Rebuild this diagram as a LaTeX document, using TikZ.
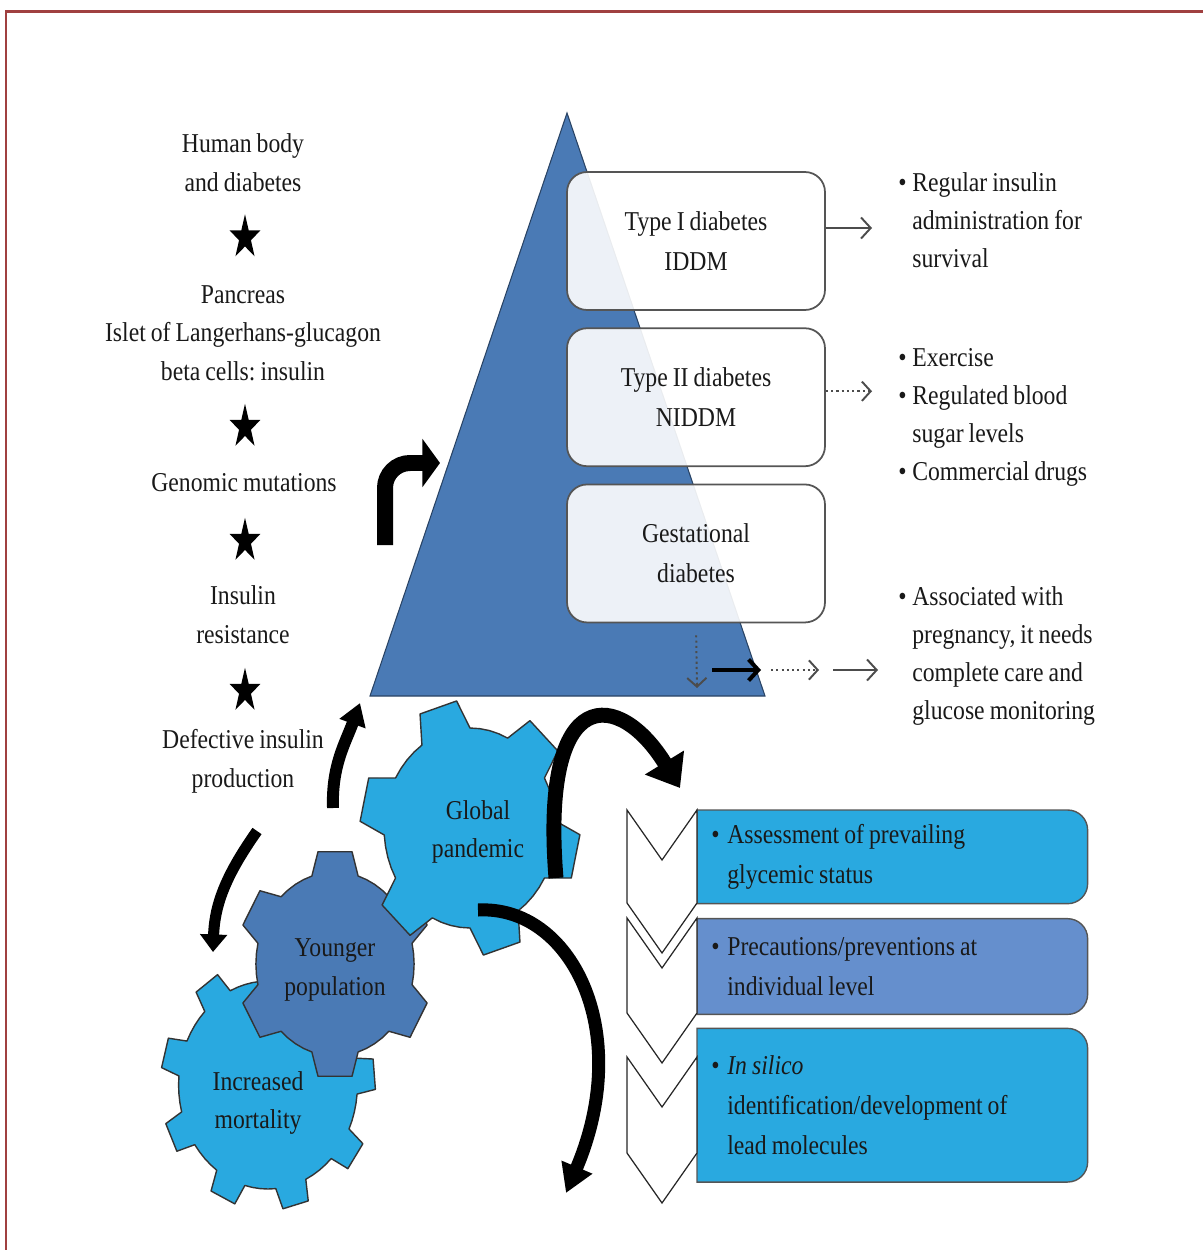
\documentclass[tikz,border=0pt]{standalone}
\usepackage{fontspec}
\setmainfont{Liberation Serif}[FakeStretch=0.87, WordSpace=0.85]
\usetikzlibrary{arrows.meta,positioning,shapes.geometric,backgrounds}
\frenchspacing

\definecolor{triblue}{RGB}{74,122,181}
\definecolor{cyanbox}{RGB}{41,169,224}
\definecolor{midblue}{RGB}{101,143,205}
\definecolor{framered}{RGB}{160,64,64}
\definecolor{edgegray}{RGB}{85,85,85}

\newcommand{\bul}[1][0.28cm]{\makebox[#1][l]{\textbullet}}
\newcommand{\hind}[1][0.28cm]{\hspace*{#1}}

% gear: centre, teeth, inner r, outer r, first tooth angle, tip half-angle, base half-angle, fill
\newcommand{\gear}[8]{%
  \begin{scope}[shift={#1}, x=0.0172cm, y=0.02cm]
    \pgfmathsetmacro{\gpitch}{360/#2}
    \filldraw[gearedge, fill=#8] ({#5-#7}:#3)
      \foreach \k [evaluate=\k as \ga using #5+\gpitch*(\k-1)] in {1,...,#2} {
        -- ({\ga-#7}:#3) -- ({\ga-#6}:#4) -- ({\ga+#6}:#4) -- ({\ga+#7}:#3)
        -- ({\ga+#7+(\gpitch-2*#7)/4}:#3) -- ({\ga+\gpitch/2}:#3)
        -- ({\ga+\gpitch-#7-(\gpitch-2*#7)/4}:#3)
      } -- cycle;
  \end{scope}}

% box with square left and rounded right corners
\newcommand{\rbox}[2]{%
  \begin{pgfonlayer}{background}
    \draw[boxedge, fill=#2] (#1.south west) -- (#1.north west)
      -- ([xshift=-4mm]#1.north east) arc[start angle=90, end angle=0, radius=4mm]
      -- ([yshift=4mm]#1.south east) arc[start angle=0, end angle=-90, radius=4mm] -- cycle;
  \end{pgfonlayer}}

\begin{document}
\begin{tikzpicture}[
  x=0.02cm, y=0.02cm,
  node distance=0.33cm,
  txt/.style={font=\fontsize{15.5pt}{22pt}\selectfont, text=black!90, align=center, inner sep=0pt},
  listtxt/.style={font=\fontsize{15.5pt}{21.6pt}\selectfont, text=black!90, align=left, inner sep=0pt, anchor=west},
  typebox/.style={draw=edgegray, line width=1pt, rounded corners=0.4cm, fill=white, fill opacity=0.9,
                  text opacity=1, minimum width=5.16cm, minimum height=2.76cm, align=center,
                  font=\fontsize{15.5pt}{22.8pt}\selectfont, text=black!90},
  bluebox/.style={font=\fontsize{15.5pt}{22.8pt}\selectfont, text=black!90, align=flush left,
                  text width=7.24cm, inner xsep=0.28cm, inner ysep=0pt, minimum width=7.8cm},
  boxedge/.style={draw=edgegray, line width=0.8pt},
  gearedge/.style={draw=black!80, line width=0.8pt, line join=round},
  starmark/.style={star, star points=5, star point ratio=2.6, fill=black, draw=none,
                   minimum size=0.93cm, inner sep=0pt, xscale=0.7},
  chev/.style={draw=black!85, line width=0.7pt, fill=white, line join=miter},
  solarr/.style={-{Straight Barb[length=5.5pt, width=12pt]}, line width=1.1pt, draw=black!70},
  dotarr/.style={-{Straight Barb[length=5pt, width=11pt]}, line width=1.1pt, draw=black!70,
                 dash pattern=on 1.2pt off 1.8pt},
  blkthin/.style={-{Straight Barb[length=5.5pt, width=12pt]}, line width=2.3pt, draw=black},
  blkarc/.style={line width=#1, draw=black}
]
\useasboundingbox (0,0) rectangle (1203,-1250);

% frame
\draw[framered, line width=1.4pt] (6,-1250) -- (6,-11.5) -- (1203,-11.5);

% pyramid and the three types
\filldraw[fill=triblue, draw=triblue!55!black, line width=0.6pt] (567,-113) -- (765,-696) -- (370,-696) -- cycle;
\node[typebox] (t1) at (696,-241) {Type I diabetes\\IDDM};
\node[typebox, below=of t1] (t2) {Type II diabetes\\NIDDM};
\node[typebox, below=of t2] (t3) {Gestational\\diabetes};

\node[listtxt] (r1) at (898,-220.5) {\bul Regular insulin\\\hind administration for\\\hind survival};
\node[listtxt] (r2) at (898,-417) {\bul Exercise\\\bul Regulated blood\\\hind sugar levels\\\bul Commercial drugs};
\node[listtxt] (r3) at (898,-656) {\bul Associated with\\\hind pregnancy, it needs\\\hind complete care and\\\hind glucose monitoring};

\draw[solarr, shorten >=0.52cm] ([yshift=0.26cm]t1.east) -- ([yshift=0.26cm]t1.east -| r1.west);
\draw[dotarr, shorten >=0.52cm] ([yshift=0.12cm]t2.east) -- ([yshift=0.12cm]t2.east -| r2.west);

\coordinate (g0) at (697,-688);
\coordinate (h1) at (712,-670);
\coordinate (h2) at (761,-670);
\coordinate (h3) at (771,-670);
\coordinate (h4) at (819,-670);
\coordinate (h5) at (833,-670);
\draw[dotarr, shorten <=0.24cm] (t3.south) -- (g0);
\draw[blkthin] (h1) -- (h2);
\draw[dotarr] (h3) -- (h4);
\draw[solarr, shorten >=0.4cm] (h5) -- (h5 -| r3.west);

% left column
\node[txt] (body) at (243,-162.5) {Human body\\and diabetes};
\node[starmark] (st1) at (245,-237.5) {};
\node[txt] (panc) at (243,-333) {Pancreas\\Islet of Langerhans-glucagon\\beta cells: insulin};
\node[starmark] (st2) at (245,-427) {};
\node[txt] (geno) at (244,-483) {Genomic mutations};
\node[starmark] (st3) at (245,-541) {};
\node[txt] (ires) at (243,-614.5) {Insulin\\resistance};
\node[starmark] (st4) at (245,-691) {};
\node[txt] (defi) at (243,-761.5) {Defective insulin\\production};

% bent arrow to the pyramid
\coordinate (bs) at (385,-545);
\coordinate (be) at (440,-463);
\draw[blkarc=9.1pt, rounded corners=0.5cm, -{Triangle[length=10pt, width=27pt]}] (bs) |- (be);

% gears
\gear{(268,-1085)}{9}{104}{125}{85}{7}{10}{cyanbox}
\gear{(335,-964)}{6}{92}{114}{90}{10}{17}{triblue}
\gear{(470,-828)}{6}{100}{128}{107}{10}{17}{cyanbox}
\node[txt] (glob) at (478,-832) {Global\\pandemic};
\node[txt] (youn) at (335,-970) {Younger\\population};
\node[txt] (mort) at (258,-1103) {Increased\\mortality};

% curved arrows
\coordinate (a1s) at (333,-808);
\coordinate (a1e) at (360,-703);
\coordinate (a2s) at (257,-831);
\coordinate (a2e) at (213,-952);
\coordinate (a3s) at (556,-878);
\coordinate (a3e) at (680,-788);
\coordinate (a4s) at (478,-910);
\coordinate (a4e) at (566,-1193);
\draw[blkarc=6.8pt, -{Triangle[length=12.5pt, width=15pt]}] (a1s) to[out=92, in=250] (a1e);
\draw[blkarc=6.3pt, -{Triangle[length=10pt, width=15pt]}] (a2s) to[out=235, in=88] (a2e);
\draw[blkarc=8.5pt, -{Triangle[length=17pt, width=25pt]}] (a3s) .. controls (540,-680) and (620,-690) .. (a3e);
\draw[blkarc=7.4pt, -{Triangle[length=16pt, width=18pt]}] (a4s) .. controls (570,-905) and (635,-1030) .. (a4e);

% chevrons and the steps
\foreach \ty/\sy in {810/903, 918/1013, 1057/1153}
  \draw[chev] (627,-\ty) -- (662,{-\ty-50}) -- (697,-\ty) -- (697,-\sy) -- (662,{-\sy-50}) -- (627,-\sy) -- cycle;

\node[bluebox, minimum height=1.86cm, anchor=north west] (b1) at (697,-810)
  {\bul[0.32cm]Assessment of prevailing\\\hind[0.32cm]glycemic status};
\node[bluebox, minimum height=1.9cm, below=0.3cm of b1] (b2)
  {\bul[0.32cm]Precautions/preventions at\\\hind[0.32cm]individual level};
\node[bluebox, minimum height=3.06cm, below=0.28cm of b2] (b3)
  {\bul[0.32cm]\textit{In silico}\\\hind[0.32cm]identification/development of\\\hind[0.32cm]lead molecules};
\rbox{b1}{cyanbox}
\rbox{b2}{midblue}
\rbox{b3}{cyanbox}
\end{tikzpicture}
\end{document}
